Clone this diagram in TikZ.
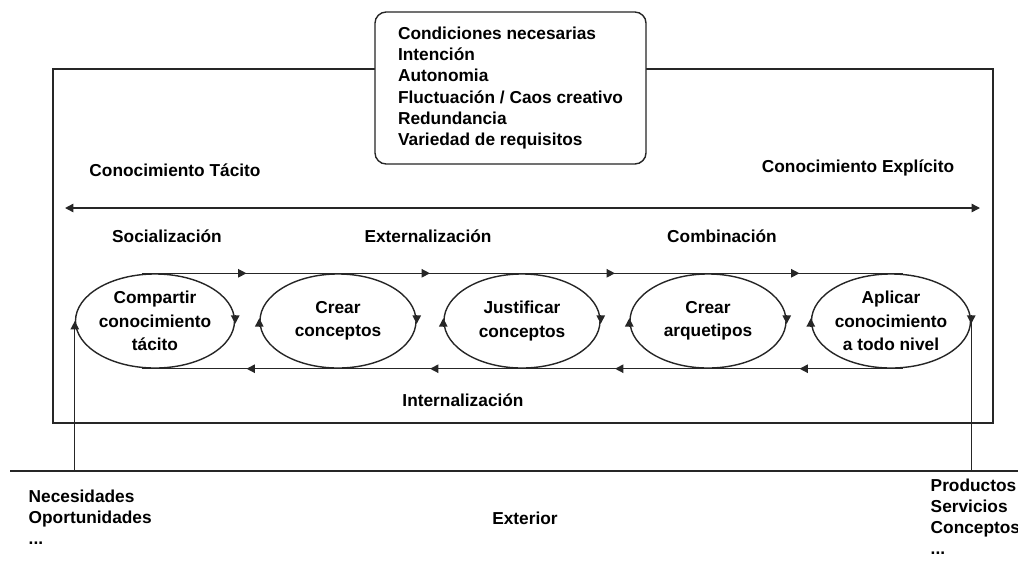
\documentclass[tikz,border=0pt]{standalone}
\usepackage{fontspec}
\setmainfont{Liberation Sans}
\usetikzlibrary{arrows.meta,shapes.geometric,positioning,decorations.markings}

\tikzset{
    proc/.style={ellipse, draw, minimum width=3.9cm, minimum height=2.35cm,
        inner sep=0pt, align=center, font=\bfseries\fontsize{12.3}{16.5}\selectfont},
    lbl/.style={font=\bfseries\fontsize{12.3}{15}\selectfont},
    tip/.style={-{Triangle[length=6pt,width=6pt]}},
    midarrow/.style={postaction={decorate}, decoration={markings,
        mark=at position 0.5 with {\arrow{Triangle[length=6pt,width=6pt]}}}}
}

\begin{document}
\begin{tikzpicture}[x=0.025cm, y=-0.025cm, line width=1pt, draw=black!85]
    \useasboundingbox (0,0) rectangle (1018,561);
    % 外框
    \draw (53,69) rectangle (993,423);
    % 条件框
    \node[draw, rounded corners=8pt, fill=white, align=left, lbl,
        minimum width=6.775cm, minimum height=3.8cm] (cond) at (510.5,88)
        {Condiciones necesarias\\Intención\\Autonomia\\Fluctuación / Caos creativo\\Redundancia\\Variedad de requisitos};

    % 知识轴
    \node[lbl] (tac) at (175,170) {Conocimiento Tácito};
    \node[lbl] (exp) at (858,168) {Conocimiento Explícito};
    \coordinate (tL) at (65,208);
    \coordinate (tR) at (980,208);
    \draw[{Triangle[length=6pt,width=6pt]}-{Triangle[length=6pt,width=6pt]}] (tL) -- (tR);

    \node[lbl] (soc) at (167,236) {Socialización};
    \node[lbl] (ext) at (428,236) {Externalización};
    \node[lbl] (com) at (722,236) {Combinación};
    \node[lbl] (int) at (463,400) {Internalización};

    % 五个阶段
    \node[proc] (e1) at (155,321) {Compartir\\conocimiento\\tácito};
    \node[proc] (e2) at (338,321) {Crear\\conceptos};
    \node[proc] (e3) at (522,321) {Justificar\\conceptos};
    \node[proc] (e4) at (708,321) {Crear\\arquetipos};
    \node[proc] (e5) at (891,321) {Aplicar\\conocimiento\\a todo nivel};

    % 上下循环线
    \foreach \a/\b in {e1/e2, e2/e3, e3/e4, e4/e5} {
        \draw[midarrow] (\a.north) -- (\b.north);
        \draw[midarrow] (\b.south) -- (\a.south);
    }
    \draw (e1.north) -- ++(-13,0);
    \draw (e1.south) -- ++(-13,0);
    \draw (e5.north) -- ++(12,0);
    \draw (e5.south) -- ++(12,0);

    % 椭圆上的箭头
    \foreach \e in {e1,e2,e3,e4,e5} {
        \draw[tip] ([yshift=4pt]\e.east) -- ([yshift=-2pt]\e.east);
    }
    \foreach \e in {e2,e3,e4,e5} {
        \draw[tip] ([yshift=-4pt]\e.west) -- ([yshift=2pt]\e.west);
    }

    % 外部
    \coordinate (bL) at (10,471);
    \coordinate (bR) at (1018,471);
    \draw (bL) -- (bR);
    \draw[tip] (e1.west |- bL) -- (e1.west);
    \draw (e5.east) -- (e5.east |- bL);

    \node[lbl, anchor=north west, align=left, inner sep=0pt] (need) at (28,489)
        {Necesidades\\Oportunidades\\...};
    \node[lbl] (exterior) at (525,518) {Exterior};
    \node[lbl, anchor=north west, align=left, inner sep=0pt] (prod) at (930,478)
        {Productos\\Servicios\\Conceptos\\...};
\end{tikzpicture}
\end{document}
